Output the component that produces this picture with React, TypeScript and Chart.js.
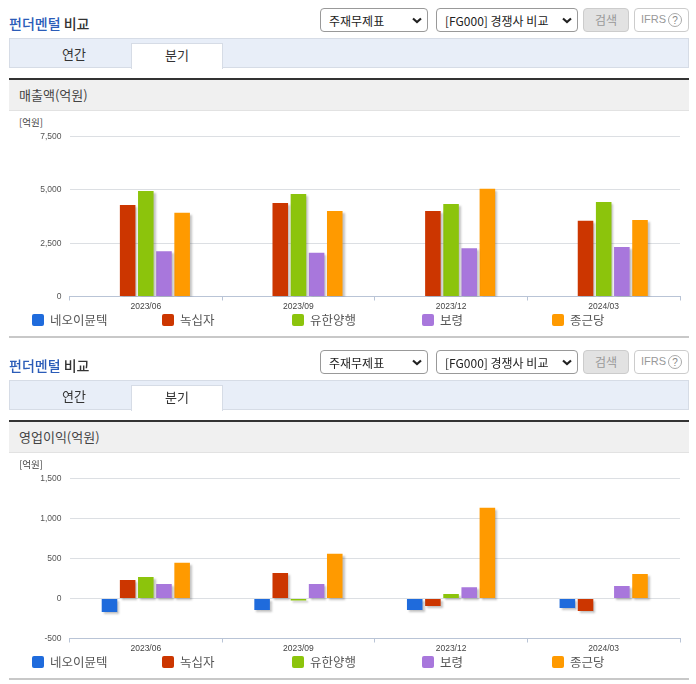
import React, { useEffect, useRef } from "react";
import { Chart, registerables } from "chart.js";

Chart.register(...registerables);

const periods = ["2023/06", "2023/09", "2023/12", "2024/03"];
const companies = ["네오이뮨텍", "녹십자", "유한양행", "보령", "종근당"];
const colors = ["#1f6bdc", "#cc3600", "#8cc40c", "#a877dc", "#ff9a00"];

const revenueNeoimmune = [0, 0, 0, 0];
const revenueGreenCross = [4274, 4370, 3990, 3540];
const revenueYuhan = [4930, 4790, 4320, 4415];
const revenueBoryung = [2120, 2040, 2260, 2310];
const revenueChongKunDang = [3915, 3990, 5040, 3570];

const profitNeoimmune = [-170, -146, -146, -121];
const profitGreenCross = [228, 316, -96, -158];
const profitYuhan = [266, -26, 54, 0];
const profitBoryung = [178, 178, 140, 154];
const profitChongKunDang = [445, 557, 1130, 303];

const revenueSeries = [revenueNeoimmune, revenueGreenCross, revenueYuhan, revenueBoryung, revenueChongKunDang];
const profitSeries = [profitNeoimmune, profitGreenCross, profitYuhan, profitBoryung, profitChongKunDang];

const KR = '"Noto Sans CJK KR", "Noto Sans", sans-serif';
const TICK_FONT = '"Liberation Sans", Arial, sans-serif';

const chevron =
  "url(\"data:image/svg+xml,%3Csvg xmlns='http://www.w3.org/2000/svg' width='10' height='7'%3E%3Cpath d='M1 1.5 L5 5 L9 1.5' fill='none' stroke='%23222' stroke-width='2.2'/%3E%3C/svg%3E\")";

const barShadow = {
  id: "barShadow",
  beforeDatasetsDraw(chart: any) {
    const c = chart.ctx;
    c.save();
    c.shadowColor = "rgba(70,70,70,0.32)";
    c.shadowOffsetX = 2;
    c.shadowOffsetY = 2;
    c.shadowBlur = 2;
  },
  afterDatasetsDraw(chart: any) {
    chart.ctx.restore();
  },
};

function BarChart({ series, min, max, step }: { series: number[][]; min: number; max: number; step: number }) {
  const ref = useRef<HTMLCanvasElement>(null);
  useEffect(() => {
    const chart = new Chart(ref.current as HTMLCanvasElement, {
      type: "bar",
      data: {
        labels: periods,
        datasets: companies.map((name, i) => ({
          label: name,
          data: series[i],
          backgroundColor: colors[i],
          borderWidth: 0,
          categoryPercentage: 0.595,
          barPercentage: 0.857,
        })),
      },
      options: {
        animation: false,
        responsive: false,
        devicePixelRatio: 1,
        locale: "en-US",
        layout: { padding: { top: 24, right: 10, left: 0, bottom: 0 } },
        plugins: { legend: { display: false }, tooltip: { enabled: false } },
        scales: {
          x: {
            offset: true,
            afterFit: (s: any) => { s.height = 15.5; },
            grid: { drawOnChartArea: false, drawTicks: true, tickLength: 4, color: "#b9c4d6", offset: true },
            border: { color: "#b9c4d6" },
            ticks: { color: "#444", font: { family: TICK_FONT, size: 8.5 }, padding: 1, maxRotation: 0 },
          },
          y: {
            min,
            max,
            afterFit: (s: any) => { s.width = 59.5; },
            grid: { color: "#dcdfe3", drawTicks: false },
            border: { display: false },
            ticks: { stepSize: step, color: "#555", font: { family: TICK_FONT, size: 8.5 }, padding: 8, labelOffset: 0.6 },
          },
        },
      },
      plugins: [barShadow],
    } as any);
    return () => chart.destroy();
  }, []);
  return (
    <canvas
      ref={ref}
      width={680}
      height={200}
      style={{ position: "absolute", left: 10, top: 112, width: 680, height: 200 }}
    />
  );
}

const abs = (left: number, top: number, width: number, height: number, extra: React.CSSProperties = {}): React.CSSProperties => ({
  position: "absolute",
  left,
  top,
  width,
  height,
  boxSizing: "border-box",
  ...extra,
});

const selectStyle: React.CSSProperties = {
  fontFamily: KR,
  fontSize: 12,
  color: "#222",
  backgroundColor: "#fff",
  backgroundImage: chevron,
  backgroundRepeat: "no-repeat",
  backgroundPosition: "right 5px center",
  border: "1px solid #999",
  borderRadius: 4,
  padding: "0 0 0 8px",
  appearance: "none",
  WebkitAppearance: "none",
};

function Section({ top, heading, series, min, max, step }: { top: number; heading: string; series: number[][]; min: number; max: number; step: number }) {
  return (
    <div style={{ position: "absolute", left: 0, top, width: 696, height: 342 }}>
      <div style={abs(9, 13, 100, 20, { fontFamily: KR, fontSize: 14, fontWeight: 500, lineHeight: "20px", color: "#333" })}>
        <span style={{ color: "#2b5cb8" }}>펀더멘털</span> 비교
      </div>
      <select style={abs(320, 8, 108, 24, selectStyle)} defaultValue="주재무제표">
        <option>주재무제표</option>
      </select>
      <select style={abs(436, 8, 142, 24, selectStyle)} defaultValue="[FG000] 경쟁사 비교">
        <option>[FG000] 경쟁사 비교</option>
      </select>
      <div style={abs(583, 8, 46, 24, { background: "#e2e2e2", border: "1px solid #ccc", borderRadius: 4, fontFamily: KR, fontSize: 12, lineHeight: "21px", textAlign: "center", color: "#999" })}>검색</div>
      <div style={abs(634, 8, 55, 24, { background: "#fff", border: "1px solid #ccc", borderRadius: 4, fontFamily: TICK_FONT, fontSize: 11, lineHeight: "21px", paddingLeft: 6, color: "#999" })}>
        IFRS
        <span style={{ position: "absolute", left: 33, top: 4, width: 14, height: 14, border: "1px solid #aaa", borderRadius: 8, fontSize: 10, lineHeight: "13px", textAlign: "center", boxSizing: "border-box", color: "#888" }}>?</span>
      </div>

      <div style={abs(9, 38, 680, 30, { background: "#e8eef8", border: "1px solid #d6dce6" })} />
      <div style={abs(9, 38, 130, 30, { fontFamily: KR, fontSize: 13, lineHeight: "31px", textAlign: "center", color: "#333" })}>연간</div>
      <div style={abs(131, 43, 92, 26, { background: "#fff", border: "1px solid #d6dce6", borderBottom: "none", fontFamily: KR, fontSize: 13, lineHeight: "21px", textAlign: "center", color: "#333" })}>분기</div>

      <div style={abs(9, 78, 680, 33, { background: "#f0f0f0", borderTop: "2px solid #333", borderBottom: "1px solid #e2e2e2", fontFamily: KR, fontSize: 13, lineHeight: "30px", paddingLeft: 10, color: "#444" })}>{heading}</div>

      <div style={abs(19, 116, 30, 13, { fontFamily: KR, fontSize: 9.5, lineHeight: "13px", color: "#444" })}>[억원]</div>

      <BarChart series={series} min={min} max={max} step={step} />

      {companies.map((name, i) => (
        <React.Fragment key={name}>
          <div style={abs(32 + i * 130, 314, 12, 12, { background: colors[i], borderRadius: 2 })} />
          <div style={abs(50 + i * 130, 311, 100, 18, { fontFamily: KR, fontSize: 12.5, lineHeight: "18px", color: "#555" })}>{name}</div>
        </React.Fragment>
      ))}

      <div style={abs(9, 336, 680, 2, { background: "#c8c8c8" })} />
    </div>
  );
}

export default function App() {
  return (
    <div style={{ position: "absolute", left: 0, top: 0, width: 696, height: 684, overflow: "hidden", background: "#fff" }}>
      <Section top={0} heading="매출액(억원)" series={revenueSeries} min={0} max={7500} step={2500} />
      <Section top={342} heading="영업이익(억원)" series={profitSeries} min={-500} max={1500} step={500} />
    </div>
  );
}
